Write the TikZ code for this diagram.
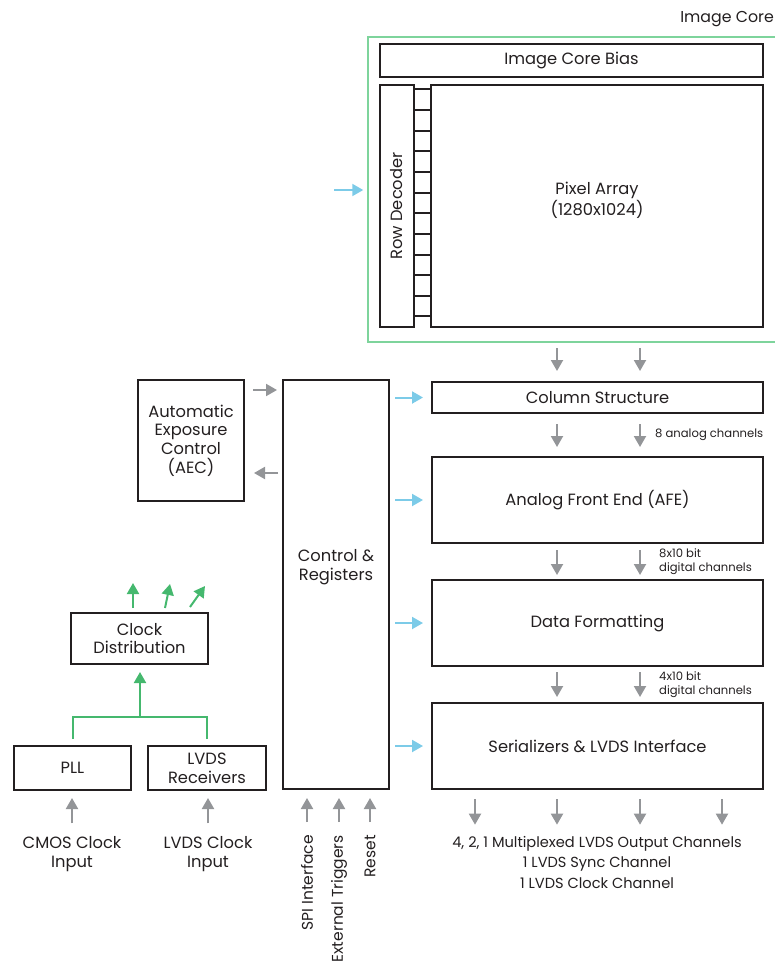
\documentclass[tikz,border=0pt]{standalone}
\usepackage{fontspec}
\setmainfont{Poppins}
\usetikzlibrary{arrows.meta}
\definecolor{boxblack}{HTML}{231F20}
\definecolor{arrowgray}{HTML}{939598}
\definecolor{arrowblue}{HTML}{7CCBE8}
\definecolor{coregreen}{HTML}{7ED49C}
\definecolor{clkgreen}{HTML}{45B86E}
\begin{document}
\begin{tikzpicture}[x=1pt, y=-1pt,
  blk/.style={draw=boxblack, line width=2pt, inner sep=0pt, align=center, text=boxblack,
    font=\fontsize{16.3}{18.7}\selectfont},
  lbl/.style={inner sep=2pt, align=center, text=boxblack, font=\fontsize{16.3}{18.5}\selectfont},
  small/.style={lbl, anchor=west, align=left, font=\fontsize{11.6}{14}\selectfont},
  vlbl/.style={lbl, rotate=90, anchor=east, font=\fontsize{15.5}{17}\selectfont},
  garrow/.style={draw=arrowgray, line width=2pt, -{Triangle[length=11pt,width=12pt]}},
  barrow/.style={draw=arrowblue, line width=2pt, -{Triangle[length=11pt,width=12pt]}},
  carrow/.style={draw=clkgreen, line width=2pt, -{Triangle[length=11pt,width=12pt]}},
  cline/.style={draw=clkgreen, line width=2pt}]
\useasboundingbox (0,0) rectangle (775,969);
% Image core
\node [draw=coregreen, line width=1.5pt, minimum width=430pt, minimum height=305pt] (core) at (583,189.5) {};
\node [lbl, anchor=east, font=\fontsize{15.8}{18}\selectfont] (corelbl) at (776,19) {Image Core};
\node [blk, minimum width=383pt, minimum height=33pt] (bias) at (571.5,60.5) {Image Core Bias};
\node [blk, minimum width=34pt, minimum height=242pt,
  label={[rotate=90, text=boxblack, font=\fontsize{16.3}{18}\selectfont]center:Row Decoder}] (rowdec) at (397,206) {};
\node [blk, minimum width=332pt, minimum height=242pt,
  label={[align=center, yshift=6pt, text=boxblack, font=\fontsize{16.3}{21}\selectfont]center:Pixel Array\\(1280x1024)}] (pixarr) at (597,206) {};
% ---
% Ladder
% ---
\draw [draw=boxblack, line width=2pt] (rowdec.east |- 0,89) -- (pixarr.west |- 0,89);
\draw [draw=boxblack, line width=2pt] (rowdec.east |- 0,110) -- (pixarr.west |- 0,110);
\draw [draw=boxblack, line width=2pt] (rowdec.east |- 0,131) -- (pixarr.west |- 0,131);
\draw [draw=boxblack, line width=2pt] (rowdec.east |- 0,151) -- (pixarr.west |- 0,151);
\draw [draw=boxblack, line width=2pt] (rowdec.east |- 0,172) -- (pixarr.west |- 0,172);
\draw [draw=boxblack, line width=2pt] (rowdec.east |- 0,193) -- (pixarr.west |- 0,193);
\draw [draw=boxblack, line width=2pt] (rowdec.east |- 0,213) -- (pixarr.west |- 0,213);
\draw [draw=boxblack, line width=2pt] (rowdec.east |- 0,234) -- (pixarr.west |- 0,234);
\draw [draw=boxblack, line width=2pt] (rowdec.east |- 0,255) -- (pixarr.west |- 0,255);
\draw [draw=boxblack, line width=2pt] (rowdec.east |- 0,275) -- (pixarr.west |- 0,275);
\draw [draw=boxblack, line width=2pt] (rowdec.east |- 0,296) -- (pixarr.west |- 0,296);
\draw [draw=boxblack, line width=2pt] (rowdec.east |- 0,316) -- (pixarr.west |- 0,316);
% Data path
\node [blk, minimum width=331pt, minimum height=31pt] (col) at (597.5,397.5) {Column Structure};
\node [blk, minimum width=331pt, minimum height=86pt] (afe) at (597.5,500) {Analog Front End (AFE)};
\node [blk, minimum width=331pt, minimum height=86pt] (fmt) at (597.5,623) {Data Formatting};
\node [blk, minimum width=331pt, minimum height=86pt] (ser) at (597.5,746) {Serializers \& LVDS Interface};
\node [small] (anlg) at (653,435) {8 analog channels};
\node [small] (dig8) at (657,562) {8x10 bit\\digital channels};
\node [small] (dig4) at (657,685) {4x10 bit\\digital channels};
\node [lbl, font=\fontsize{14.6}{20.5}\selectfont] (outtxt) at (597,862) {4, 2, 1 Multiplexed LVDS Output Channels\\1 LVDS Sync Channel\\1 LVDS Clock Channel};
% Control side
\node [blk, minimum width=106pt, minimum height=409pt,
  label={[align=center, yshift=17pt, text=boxblack, font=\fontsize{16.3}{18.7}\selectfont]center:Control \&\\Registers}] (ctrl) at (336,584.5) {};
\node [blk, minimum width=106pt, minimum height=121pt] (aec) at (191,440.5) {Automatic\\Exposure\\Control\\(AEC)};
% Clock side
\node [blk, minimum width=137pt, minimum height=51pt] (clk) at (139.5,638.5) {Clock\\Distribution};
\node [blk, minimum width=117pt, minimum height=44pt] (pll) at (72.5,768) {PLL};
\node [blk, minimum width=118pt, minimum height=44pt] (lvds) at (207,768) {LVDS\\Receivers};
\node [lbl] (cmos) at (72,854) {CMOS Clock\\Input};
\node [lbl] (lvdsin) at (208,854) {LVDS Clock\\Input};
\node [vlbl] (spi) at (307,833) {SPI Interface};
\node [vlbl] (ext) at (339,833) {External Triggers};
\node [vlbl] (reset) at (370,833) {Reset};
\coordinate (ctrlin) at (334,190);
\coordinate (clkjoin) at (140,717);
\coordinate (clkout1) at (133,583);
\coordinate (clkout2) at (170,584);
\coordinate (clkout3) at (205,586);
% ---
% Gray arrows
% ---
\draw [garrow, shorten <=20pt, shorten >=10pt] (557,0 |- pixarr.south) -- (557,0 |- col.north);
\draw [garrow, shorten <=20pt, shorten >=10pt] (640,0 |- pixarr.south) -- (640,0 |- col.north);
\draw [garrow, shorten <=10pt, shorten >=9pt] (557,0 |- col.south) -- (557,0 |- afe.north);
\draw [garrow, shorten <=10pt, shorten >=9pt] (640,0 |- col.south) -- (640,0 |- afe.north);
\draw [garrow, shorten <=6pt, shorten >=4pt] (557,0 |- afe.south) -- (557,0 |- fmt.north);
\draw [garrow, shorten <=6pt, shorten >=4pt] (640,0 |- afe.south) -- (640,0 |- fmt.north);
\draw [garrow, shorten <=5pt, shorten >=5pt] (557,0 |- fmt.south) -- (557,0 |- ser.north);
\draw [garrow, shorten <=5pt, shorten >=5pt] (640,0 |- fmt.south) -- (640,0 |- ser.north);
\draw [garrow, shorten <=9pt, shorten >=9pt] (475,0 |- ser.south) -- (475,0 |- outtxt.north);
\draw [garrow, shorten <=9pt, shorten >=9pt] (557,0 |- ser.south) -- (557,0 |- outtxt.north);
\draw [garrow, shorten <=9pt, shorten >=9pt] (640,0 |- ser.south) -- (640,0 |- outtxt.north);
\draw [garrow, shorten <=9pt, shorten >=9pt] (722,0 |- ser.south) -- (722,0 |- outtxt.north);
\draw [garrow, shorten <=8pt, shorten >=5pt] ([yshift=-11pt]aec.north east) -- ([yshift=-11pt]aec.north east -| ctrl.west);
\draw [garrow, shorten <=4pt, shorten >=9pt] ([yshift=-94pt]aec.north east -| ctrl.west) -- ([yshift=-94pt]aec.north east);
\draw [garrow, shorten <=11pt, shorten >=7pt] (cmos.north) -- (cmos.north |- pll.south);
\draw [garrow, shorten <=11pt, shorten >=7pt] (lvdsin.north) -- (lvdsin.north |- lvds.south);
\draw [garrow, shorten <=11pt, shorten >=8pt] (spi.east) -- (spi.east |- ctrl.south);
\draw [garrow, shorten <=11pt, shorten >=8pt] (ext.east) -- (ext.east |- ctrl.south);
\draw [garrow, shorten <=11pt, shorten >=8pt] (reset.east) -- (reset.east |- ctrl.south);
% ---
% Blue arrows
% ---
\draw [barrow, shorten >=4pt] (ctrlin) -- (ctrlin -| core.west);
\draw [barrow, shorten <=5pt, shorten >=8pt] (ctrl.east |- col) -- (col.west);
\draw [barrow, shorten <=5pt, shorten >=8pt] (ctrl.east |- afe) -- (afe.west);
\draw [barrow, shorten <=5pt, shorten >=8pt] (ctrl.east |- fmt) -- (fmt.west);
\draw [barrow, shorten <=5pt, shorten >=8pt] (ctrl.east |- ser) -- (ser.west);
% ---
% Green clock lines
% ---
\draw [cline, shorten <=6pt] (pll.north) |- (clkjoin);
\draw [cline, shorten <=6pt] (lvds.north) |- (clkjoin);
\draw [carrow, shorten >=7pt] (clkjoin) -- (clkjoin |- clk.south);
\draw [carrow] ([xshift=-6.5pt, yshift=4pt]clk.north) -- (clkout1);
\draw [carrow] ([xshift=25.5pt, yshift=4pt]clk.north) -- (clkout2);
\draw [carrow] ([xshift=50.5pt, yshift=5pt]clk.north) -- (clkout3);
\end{tikzpicture}
\end{document}
